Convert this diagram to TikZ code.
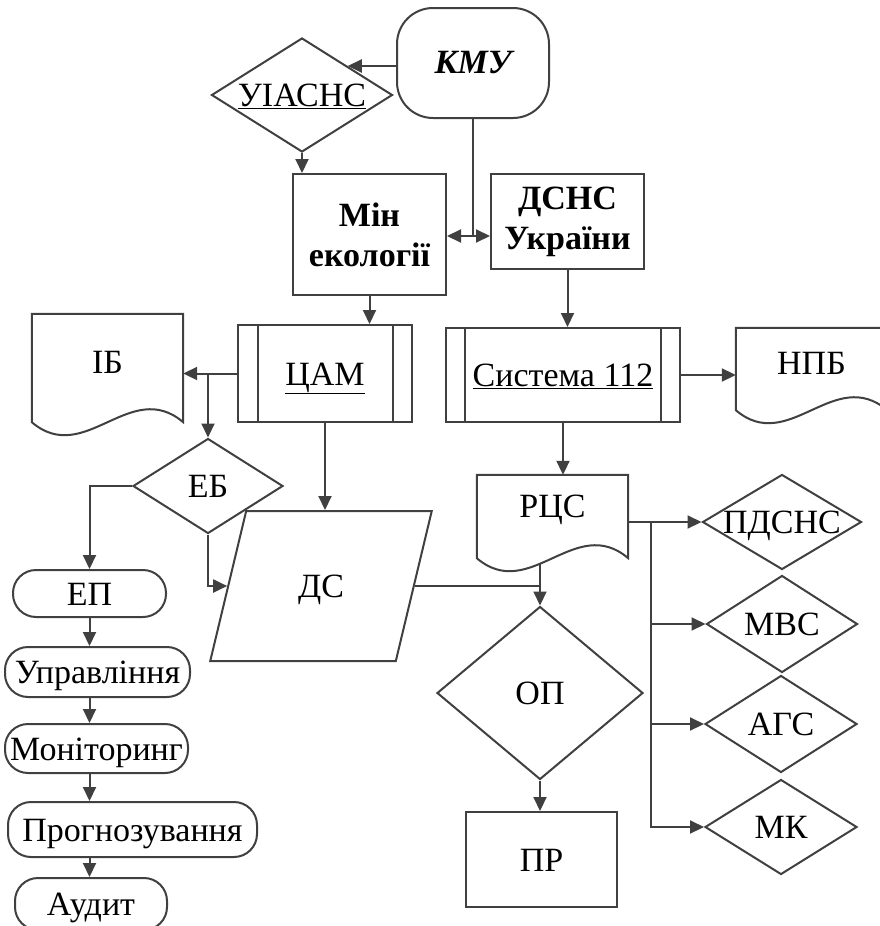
\documentclass[tikz,border=0pt]{standalone}
\usepackage{fontspec}
\setmainfont{Liberation Serif}
\usetikzlibrary{arrows.meta,shapes.geometric,calc,backgrounds}
\definecolor{lc}{HTML}{404040}
\newcommand\dfs{\fontsize{34}{40}\selectfont}
\newcommand\docpath[1]{%
 \draw[shp] (#1.north west) -- (#1.north east) -- (#1.south east)
  .. controls ($(#1.south east)!0.35!(#1.south west)+(0,-45)$) and ($(#1.south east)!0.65!(#1.south west)+(0,45)$) .. (#1.south west) -- cycle;}
\tikzset{
 shp/.style={draw=lc, line width=2pt, fill=white},
 ln/.style={draw=lc, line width=2pt},
 arr/.style={ln, -{Triangle[length=14pt,width=13pt]}},
 capc/.style={text height=23pt, text depth=0pt},
 box/.style={shp, rectangle, inner sep=0pt, font=\dfs, align=center},
 dia/.style={shp, diamond, inner sep=0pt},
 pill/.style={shp, rectangle, rounded corners=23pt, inner sep=0pt, font=\dfs, capc},
 doc/.style={rectangle, inner sep=0pt},
 lab/.style={label={[font=\dfs, capc]center:#1}},
 txt/.style={font=\dfs, inner sep=0pt},
}
\begin{document}
\begin{tikzpicture}[x=1pt,y=-1pt]
\useasboundingbox (0,0) rectangle (880,926);
% top
\node[shp, rounded corners=36pt, minimum width=152pt, minimum height=110pt, font=\dfs\bfseries\itshape] (kmu) at (473,63) {КМУ};
\node[dia, minimum width=181pt, minimum height=114pt, lab=\underline{УІАСНС}] (uia) at (302,95) {};
\node[box, minimum width=153pt, minimum height=121pt, font=\dfs\bfseries] (min) at (369.5,234.5) {Мін\\екології};
\node[box, minimum width=153pt, minimum height=95pt, font=\dfs\bfseries] (dsns) at (567.5,221.5) {ДСНС\\України};
% processes
\node[box, capc, minimum width=174pt, minimum height=97pt] (cam) at (325,373.5) {\underline{ЦАМ}};
\draw[ln] ([xshift=21pt]cam.north west) -- ([xshift=21pt]cam.south west);
\draw[ln] ([xshift=-20pt]cam.north east) -- ([xshift=-20pt]cam.south east);
\node[box, capc, minimum width=234pt, minimum height=94pt] (sys) at (563,375) {\underline{Система 112}};
\draw[ln] ([xshift=20pt]sys.north west) -- ([xshift=20pt]sys.south west);
\draw[ln] ([xshift=-20pt]sys.north east) -- ([xshift=-20pt]sys.south east);
% documents
\node[doc, minimum width=151pt, minimum height=108pt] (ib) at (107.5,368) {};
\docpath{ib}
\node[txt] (ibt) at ([yshift=6pt]ib.center) {ІБ};
\node[doc, minimum width=151pt, minimum height=82pt] (npb) at (811.5,369) {};
\docpath{npb}
\node[txt] (npbt) at ([yshift=6pt]npb.center) {НПБ};
\node[doc, minimum width=151pt, minimum height=83pt] (rcs) at (552.5,516.5) {};
\docpath{rcs}
\node[txt] (rcst) at ([yshift=7pt]rcs.center) {РЦС};
% middle
\node[dia, minimum width=150pt, minimum height=95pt, lab=ЕБ] (eb) at (208,486) {};
\node[shp, trapezium, trapezium left angle=64.4, trapezium right angle=115.6, trapezium stretches=true, minimum width=222pt, minimum height=150pt, inner sep=0pt, font=\dfs, capc] (ds) at (321,586) {ДС};
\node[dia, minimum width=206pt, minimum height=173pt, lab=ОП] (op) at (540,693) {};
\node[box, capc, minimum width=151pt, minimum height=95pt] (pr) at (541.5,859.5) {ПР};
% right diamonds
\node[dia, minimum width=159pt, minimum height=95pt, lab=ПДСНС] (pdsns) at (782,522) {};
\node[dia, minimum width=151pt, minimum height=97pt, lab=МВС] (mvs) at (782,624) {};
\node[dia, minimum width=152pt, minimum height=97pt, lab=АГС] (ags) at (781,724) {};
\node[dia, minimum width=152pt, minimum height=95pt, lab=МК] (mk) at (781,827) {};
% left pills
\node[pill, minimum width=153pt, minimum height=47pt] (ep) at (89.5,593.5) {ЕП};
\node[pill, minimum width=185pt, minimum height=50pt] (upr) at (97.5,672) {Управління};
\node[pill, minimum width=183pt, minimum height=49pt] (mon) at (96.5,748.5) {Моніторинг};
\node[pill, minimum width=249pt, minimum height=55pt] (prog) at (132.5,829.5) {Прогнозування};
\node[pill, minimum width=152pt, minimum height=52pt] (aud) at (91,904) {Аудит};
% connectors
\begin{scope}[on background layer]
\coordinate (j1) at (473,236);
\draw[ln] (kmu.south) -- (j1);
\draw[arr] (j1) -- (j1 -| min.east);
\draw[arr] (j1) -- (j1 -| dsns.west);
\draw[arr] (kmu.west |- uia.north east) -- (uia.north east);
\draw[arr] (uia.south) -- (uia.south |- min.north);
\draw[arr] (min.south) -- (min.south |- cam.north);
\draw[arr] (dsns.south) -- (dsns.south |- sys.north);
\draw[arr] (cam.west) -- (cam.west -| ib.east);
\coordinate (j2) at (cam.west -| eb.north);
\draw[arr] (j2) -- (eb.north);
\draw[arr] (sys.east) -- (sys.east -| npb.west);
\draw[arr] (sys.south) -- (sys.south |- rcs.north);
\draw[arr] (eb.west) -| (ep.north);
\draw[arr] (eb.south) |- (ds.left side);
\draw[arr] (cam.south) -- (cam.south |- ds.top side);
\draw[arr] (ds.right side) -| (op.north);
\draw[ln] (rcs.center -| op.north) -- (ds.right side -| op.north);
\coordinate (j4) at (651,522);
\draw[ln] (rcs.center |- j4) -- (j4);
\draw[arr] (j4) -- (pdsns.west);
\draw[arr] (j4) |- (mvs.west);
\draw[arr] (j4) |- (ags.west);
\draw[arr] (j4) |- (mk.west);
\draw[arr] (op.south) -- (op.south |- pr.north);
\draw[arr] (ep.south) -- (ep.south |- upr.north);
\draw[arr] (ep.south |- upr.south) -- (ep.south |- mon.north);
\draw[arr] (ep.south |- mon.south) -- (ep.south |- prog.north);
\draw[arr] (ep.south |- prog.south) -- (ep.south |- aud.north);
\end{scope}
\end{tikzpicture}
\end{document}
